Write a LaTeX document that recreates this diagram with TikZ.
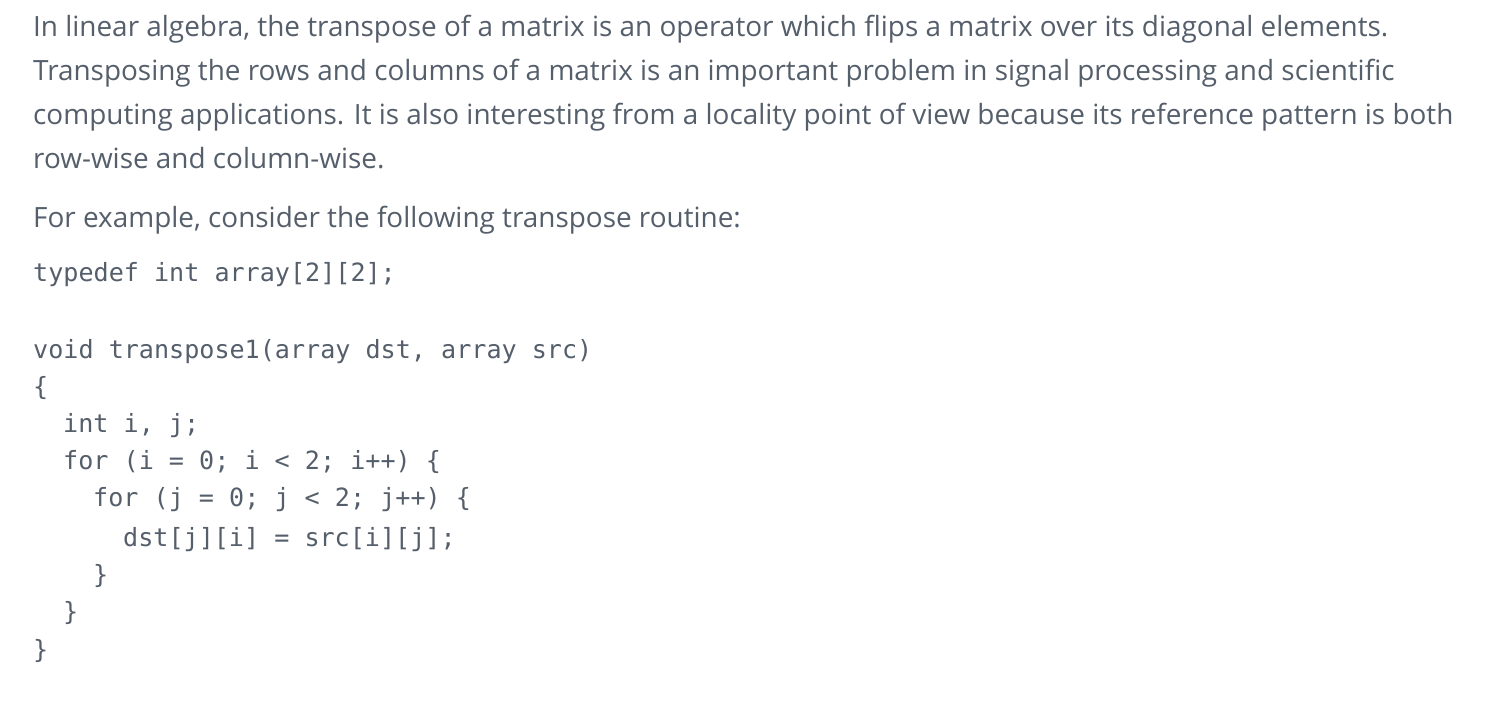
\documentclass[tikz,border=0pt]{standalone}
\usepackage{fontspec}
\setmainfont{Open Sans}
\newfontfamily\codefont{DejaVu Sans Mono}
\definecolor{txt}{HTML}{555F6B}
\begin{document}
\begin{tikzpicture}[x=1pt,y=-1pt,
  para/.style={anchor=base west,inner sep=0pt,text=txt,font=\fontsize{27.9}{30}\selectfont},
  code/.style={anchor=base west,inner sep=0pt,text=txt,font=\codefont\fontsize{25.1}{30}\selectfont}]
\useasboundingbox[fill=white] (0,0) rectangle (1498,714);
\node[para] (l1) at (33,37) {In linear algebra, the transpose of a matrix is an operator which flips a matrix over its diagonal elements.};
\node[para] (l2) at (33,81) {Transposing the rows and columns of a matrix is an important problem in signal processing and scientific};
\node[para] (l3) at (33,125) {computing applications. It is also interesting from a locality point of view because its reference pattern is both};
\node[para] (l4) at (33,169) {row-wise and column-wise.};
\node[para] (l5) at (33,227) {For example, consider the following transpose routine:};
\node[code] (c1) at (33,281) {typedef int array[2][2];};
\node[code] (c2) at (33,358) {void transpose1(array dst, array src)};
\node[code] (c3) at (33,395) {\{};
\node[code] (c4) at (63,432) {int i, j;};
\node[code] (c5) at (63,469) {for (i = 0; i < 2; i++) \{};
\node[code] (c6) at (93,506) {for (j = 0; j < 2; j++) \{};
\node[code] (c7) at (123,546) {dst[j][i] = src[i][j];};
\node[code] (c8) at (93,583) {\}};
\node[code] (c9) at (63,620) {\}};
\node[code] (c10) at (33,658) {\}};
\end{tikzpicture}
\end{document}
